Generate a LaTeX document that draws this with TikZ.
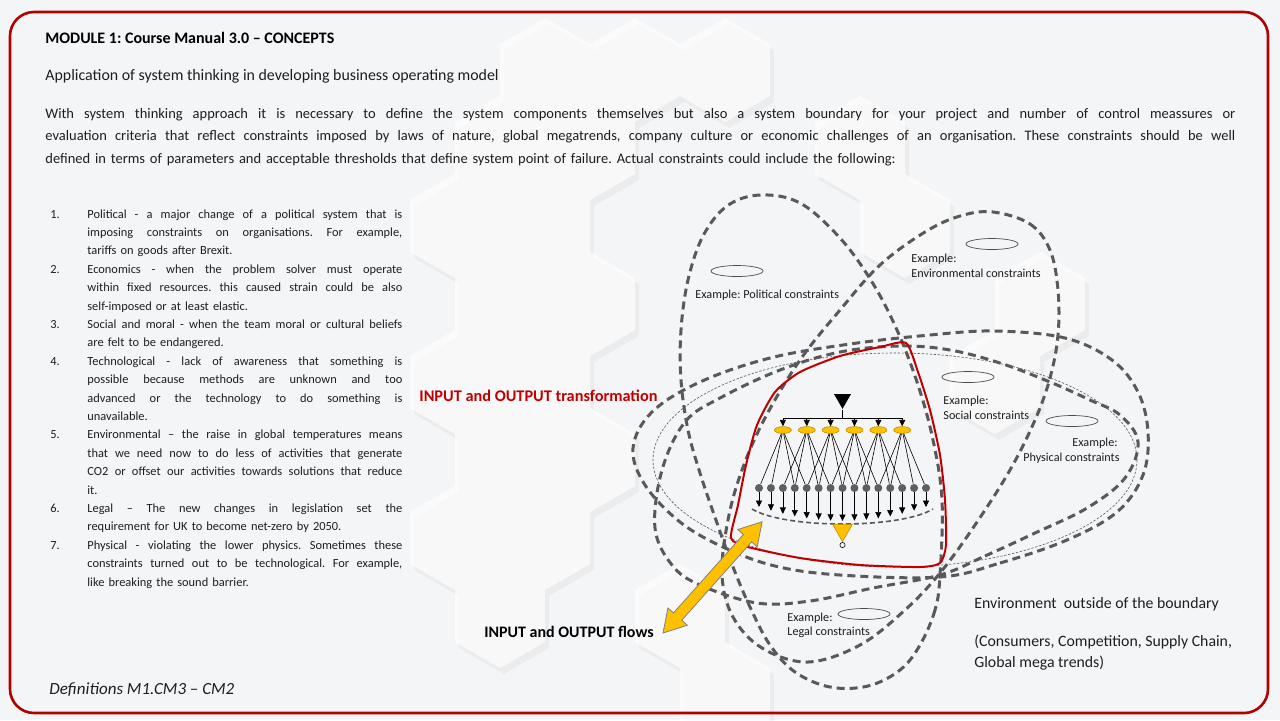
\documentclass[tikz,border=0pt]{standalone}
\usepackage{fontspec}
\setmainfont{Carlito}
\usetikzlibrary{arrows.meta,positioning,shapes.geometric}

\definecolor{pagebg}{HTML}{F4F5F7}
\definecolor{framered}{HTML}{B00000}
\definecolor{deepred}{HTML}{C00000}
\definecolor{loopgray}{HTML}{595959}
\definecolor{gold}{HTML}{FFC000}
\definecolor{goldedge}{HTML}{BF9000}
\definecolor{dotgray}{HTML}{5F5F5F}
\definecolor{textgray}{HTML}{1E1E1E}

\frenchspacing
% justified lines of fixed width
\newcommand{\stretchsp}{\spaceskip=\fontdimen2\font plus 1fil\relax}
\newcommand{\parline}[1]{\makebox[595pt][s]{\stretchsp #1}}
\newcommand{\itemline}[2]{\makebox[18.5pt][l]{#1}\makebox[157.5pt][s]{\stretchsp #2}}
\newcommand{\itemlast}[2]{\makebox[18.5pt][l]{#1}#2}

\begin{document}
\begin{tikzpicture}[x=0.5pt, y=-0.5pt,
  txt/.style={inner sep=0pt, anchor=base west, text=textgray},
  body/.style={txt, font=\fontsize{7.25}{11.25}\selectfont},
  small/.style={txt, font=\fontsize{6.2}{9.2}\selectfont},
  tag/.style={txt, font=\fontsize{6.1}{7.5}\selectfont},
  loop/.style={draw=loopgray, line width=1.5pt, dash pattern=on 4pt off 2.5pt},
  thin/.style={draw=loopgray, line width=0.3pt, dash pattern=on 1.2pt off 0.8pt},
  hint/.style={draw=black!70, line width=0.35pt},
  bound/.style={draw=deepred, line width=1pt},
  unit/.style={ellipse, fill=gold, draw=goldedge, line width=0.3pt,
               minimum width=8.5pt, minimum height=3.4pt, inner sep=0pt},
  dot/.style={circle, fill=dotgray, minimum size=4pt, inner sep=0pt},
  tri/.style={regular polygon, regular polygon sides=3, shape border rotate=180, inner sep=0pt},
  link/.style={line width=0.3pt},
  arr/.style={-{Triangle[length=3.2pt, width=3pt]}, line width=0.35pt},
  hexcell/.style={fill=white, opacity=0.65},
  hexshade/.style={fill=black, opacity=0.035}
]
\fill[pagebg] (0,0) rectangle (1280,720);
\useasboundingbox (0,0) rectangle (1280,720);

% background honeycomb
\foreach \hx/\hy in {545/70, 635/70, 725/70, 500/148, 590/148, 860/148, 455/226, 545/226,
                     905/226, 500/304, 590/304, 1040/304, 455/382, 545/382, 995/382,
                     500/460, 590/460, 455/538, 545/538, 500/616, 680/616, 725/694} {
  \fill[hexshade, shift={({\hx+4},{\hy+6})}] (0,-52) -- (45,-26) -- (45,26) -- (0,52) -- (-45,26) -- (-45,-26) -- cycle;
  \fill[hexcell, shift={(\hx,\hy)}] (0,-52) -- (45,-26) -- (45,26) -- (0,52) -- (-45,26) -- (-45,-26) -- cycle;
}

\draw[framered, line width=1.3pt, rounded corners=12pt] (10,12) rectangle (1268,713);

% header and paragraph
\node[body, font=\fontsize{8}{9}\selectfont\bfseries, text=black] (title) at (45,43)
  {MODULE 1: Course Manual 3.0 – CONCEPTS};
\node[body, font=\fontsize{7.95}{9}\selectfont] (sub) at (45,80)
  {Application of system thinking in developing business operating model};
\node[body, text width=600pt, align=left] (para) at (45,118) {%
\parline{With system thinking approach it is necessary to define the system components themselves but also a system boundary for your project and number of control meassures or}\\
\parline{evaluation criteria that reflect constraints imposed by laws of nature, global megatrends, company culture or economic challenges of an organisation. These constraints should be well}\\
defined in terms of parameters and acceptable thresholds that define system point of failure. Actual constraints could include the following:};

% list of constraints
\node[small, text width=180pt, align=left] (list) at (50,218) {%
\itemline{1.}{Political - a major change of a political system that is}\\
\itemline{}{imposing constraints on organisations. For example,}\\
\itemlast{}{tariffs on goods after Brexit.}\\
\itemline{2.}{Economics - when the problem solver must operate}\\
\itemline{}{within fixed resources. this caused strain could be also}\\
\itemlast{}{self-imposed or at least elastic.}\\
\itemline{3.}{Social and moral - when the team moral or cultural beliefs}\\
\itemlast{}{are felt to be endangered.}\\
\itemline{4.}{Technological - lack of awareness that something is}\\
\itemline{}{possible because methods are unknown and too}\\
\itemline{}{advanced or the technology to do something is}\\
\itemlast{}{unavailable.}\\
\itemline{5.}{Environmental – the raise in global temperatures means}\\
\itemline{}{that we need now to do less of activities that generate}\\
\itemline{}{CO2 or offset our activities towards solutions that reduce}\\
\itemlast{}{it.}\\
\itemline{6.}{Legal – The new changes in legislation set the}\\
\itemlast{}{requirement for UK to become net-zero by 2050.}\\
\itemline{7.}{Physical - violating the lower physics. Sometimes these}\\
\itemline{}{constraints turned out to be technological. For example,}\\
\itemlast{}{like breaking the sound barrier.}};

\node[body, font=\fontsize{8.5}{9}\selectfont\itshape] (defs) at (49,694) {Definitions M1.CM3 – CM2};

% constraint loops
\draw[thin] (895,460) ellipse [x radius=242, y radius=107];
\draw[loop] plot[smooth cycle, tension=0.6] coordinates {(940,575) (935,610) (920,645) (900,670)
  (868,686) (830,687) (795,672) (770,645) (750,607) (733,567) (717,523) (700,473) (688,430)
  (681,380) (681,330) (688,280) (703,236) (727,206) (760,195) (800,203) (840,238) (872,282)
  (897,330) (918,385) (933,440) (942,500)};
\draw[loop] plot[smooth cycle, tension=0.6] coordinates {(993,212) (1030,224) (1050,250)
  (1058,290) (1058,335) (1050,378) (1035,420) (1010,470) (975,525) (940,573) (905,610)
  (860,645) (808,662) (762,648) (733,617) (722,575) (728,520) (742,470) (765,418) (800,360)
  (840,310) (880,265) (925,232) (960,216)};
\draw[loop] plot[smooth cycle, tension=0.6] coordinates {(940,577) (1000,563) (1067,540)
  (1117,512) (1143,475) (1148,432) (1138,392) (1112,360) (1065,338) (995,331) (930,335)
  (850,344) (770,358) (700,382) (652,412) (633,448) (645,485) (680,522) (723,547) (775,566)
  (840,575)};
\draw[loop] plot[smooth cycle, tension=0.6] coordinates {(940,575) (985,556) (1035,533)
  (1087,508) (1125,478) (1138,442) (1120,415) (1090,400) (1050,382) (1000,363) (950,350)
  (900,346) (840,352) (780,370) (720,398) (685,422) (662,470) (655,528) (672,565) (700,585)
  (757,603) (810,601) (873,588)};

% system boundary
\draw[bound] plot[smooth cycle, tension=0.4] coordinates {(906,343) (880,347) (840,356)
  (800,372) (775,392) (757,425) (746,465) (738,505) (731,538) (748,547) (800,558) (860,565)
  (920,567) (940,563) (946,545) (945,500) (940,455) (930,410) (918,372)};

% transformation network
\foreach \i in {0,...,14}
  \node[dot] (d\i) at ({759+11.93*\i},488) {};
\foreach \j in {0,...,5}
  \node[unit] (u\j) at ({782.9+23.86*\j},430) {};
\node[tri, fill=black, minimum size=9.8pt] (src) at (842.5,399) {};
\coordinate (bus) at (842.5,418);
\draw[line width=0.5pt] (src.corner 1) -- (bus);
\draw[line width=0.5pt] (u0 |- bus) -- (u5 |- bus);
\foreach \j in {0,...,5}
  \draw[arr] (u\j |- bus) -- (u\j);
\foreach \j in {0,...,5}
  \foreach \o in {-2,-1,1,2} {
    \pgfmathtruncatemacro\k{2*\j+2+\o}
    \draw[link] (u\j) -- (d\k);
  }
\foreach \i in {0,...,14} {
  \pgfmathsetmacro\ye{507+14*(1-((11.93*\i-83.5)/83.5)^2)}
  \coordinate (e\i) at ({759+11.93*\i},\ye);
  \draw[arr] (d\i) -- (e\i);
}
\draw[draw=loopgray, line width=0.8pt, dash pattern=on 2.5pt off 1.5pt]
  (752,509) .. controls (785,529) and (900,529) .. (933,509);
\node[tri, fill=gold, draw=goldedge, line width=0.3pt, minimum size=11.5pt] (out) at (842.5,530) {};
\node[circle, draw=black, fill=white, line width=0.3pt, minimum size=2.6pt, inner sep=0pt,
      below=0pt of out.corner 1] (sink) {};

% constraint labels
\draw[hint] (737,271) ellipse [x radius=26, y radius=5.5];
\node[tag] (pol) at (695,298) {Example: Political constraints};
\draw[hint] (992,244) ellipse [x radius=26, y radius=5.5];
\node[tag] (env1) at (911,262) {Example:};
\node[tag] (env2) at (911,277) {Environmental constraints};
\draw[hint] (968,377) ellipse [x radius=26, y radius=5.5];
\node[tag] (soc1) at (943,404) {Example:};
\node[tag] (soc2) at (943,419) {Social constraints};
\draw[hint] (1072,421) ellipse [x radius=26, y radius=5.5];
\node[tag, anchor=base east] (phy1) at (1118,446) {Example:};
\node[tag, anchor=base east] (phy2) at (1120,461) {Physical constraints};
\draw[hint] (864,614) ellipse [x radius=26, y radius=5.5];
\node[tag] (leg1) at (787,621) {Example:};
\node[tag] (leg2) at (787,635) {Legal constraints};

% flows
\begin{scope}[shift={(663,633)}, rotate=48.3]
  \filldraw[fill=gold, draw=gray, line width=0.4pt] (0,0) -- (22,-13) -- (22,-5.5) -- (127,-5.5)
    -- (127,-13) -- (149,0) -- (127,13) -- (127,5.5) -- (22,5.5) -- (22,13) -- cycle;
\end{scope}
\node[body, font=\fontsize{8.15}{9}\selectfont\bfseries, text=deepred] (trans) at (419,401)
  {INPUT and OUTPUT transformation};
\node[body, font=\fontsize{8}{9}\selectfont\bfseries, text=black] (flows) at (484,637)
  {INPUT and OUTPUT flows};

% environment
\node[body, font=\fontsize{7.9}{9}\selectfont] (env) at (974,608) {Environment\ \ outside of the boundary};
\node[body, font=\fontsize{7.9}{9}\selectfont] (envA) at (974,646) {(Consumers, Competition, Supply Chain,};
\node[body, font=\fontsize{7.9}{9}\selectfont] (envB) at (974,667) {Global mega trends)};
\end{tikzpicture}
\end{document}
